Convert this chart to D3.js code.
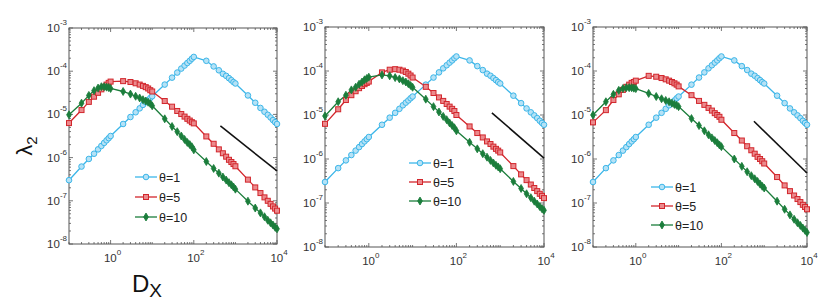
<!DOCTYPE html>
<html>
<head>
<meta charset="utf-8">
<script src="https://cdn.jsdelivr.net/npm/d3@7"></script>
<style>
body { margin: 0; background: #fff; }
svg { display: block; font-family: "Liberation Sans", Arial, Helvetica, sans-serif; }
</style>
</head>
<body>
<svg width="831" height="303"></svg>
<script>
// D_X sample points (1..9 per decade)
var dx = [0.1, 0.2, 0.3, 0.4, 0.5, 0.6, 0.7, 0.8, 0.9,
          1, 2, 3, 4, 5, 6, 7, 8, 9,
          10, 20, 30, 40, 50, 60, 70, 80, 90,
          100, 200, 300, 400, 500, 600, 700, 800, 900,
          1000, 2000, 3000, 4000, 5000, 6000, 7000, 8000, 9000, 10000];

// theta = 1 (same curve in all three panels)
var theta1 = [3.0e-7, 6.2e-7, 9.3e-7, 1.23e-6, 1.55e-6, 1.86e-6, 2.19e-6, 2.51e-6, 2.82e-6,
              3.16e-6, 6.0e-6, 8.7e-6, 1.12e-5, 1.38e-5, 1.66e-5, 1.91e-5, 2.14e-5, 2.40e-5,
              2.63e-5, 4.9e-5, 7.1e-5, 9.3e-5, 1.15e-4, 1.35e-4, 1.55e-4, 1.74e-4, 1.95e-4,
              2.14e-4, 1.74e-4, 1.29e-4, 1.05e-4, 8.7e-5, 7.8e-5, 6.9e-5, 6.2e-5, 5.6e-5,
              5.2e-5, 2.75e-5, 1.86e-5, 1.41e-5, 1.15e-5, 9.8e-6, 8.5e-6, 7.4e-6, 6.6e-6, 6.0e-6];

// panel 1
var theta5A = [6.3e-6, 1.26e-5, 1.95e-5, 2.57e-5, 3.16e-5, 3.80e-5, 4.37e-5, 4.90e-5, 5.37e-5,
               5.75e-5, 5.89e-5, 5.62e-5, 5.25e-5, 4.90e-5, 4.57e-5, 4.27e-5, 3.98e-5, 3.63e-5,
               3.39e-5, 2.04e-5, 1.51e-5, 1.20e-5, 1.02e-5, 8.9e-6, 7.9e-6, 7.2e-6, 6.6e-6,
               6.2e-6, 3.09e-6, 2.09e-6, 1.55e-6, 1.26e-6, 1.05e-6, 8.9e-7, 7.9e-7, 7.1e-7,
               6.3e-7, 3.09e-7, 2.04e-7, 1.51e-7, 1.20e-7, 1.00e-7, 8.5e-8, 7.4e-8, 6.6e-8, 5.9e-8];
var theta10A = [9.8e-6, 1.82e-5, 2.75e-5, 3.55e-5, 4.07e-5, 4.37e-5, 4.37e-5, 4.27e-5, 4.17e-5,
                3.98e-5, 3.39e-5, 2.95e-5, 2.63e-5, 2.40e-5, 2.19e-5, 2.04e-5, 1.91e-5, 1.78e-5,
                1.58e-5, 7.9e-6, 5.25e-6, 3.98e-6, 3.16e-6, 2.63e-6, 2.24e-6, 2.00e-6, 1.78e-6,
                1.51e-6, 8.1e-7, 5.6e-7, 4.37e-7, 3.55e-7, 3.02e-7, 2.63e-7, 2.34e-7, 2.09e-7,
                1.86e-7, 9.8e-8, 6.8e-8, 5.25e-8, 4.27e-8, 3.55e-8, 3.09e-8, 2.75e-8, 2.45e-8, 2.24e-8];

// panel 2
var theta5B = [6.3e-6, 1.35e-5, 2.19e-5, 2.82e-5, 3.47e-5, 4.07e-5, 4.57e-5, 5.01e-5, 5.37e-5,
               5.75e-5, 9.3e-5, 1.07e-4, 1.10e-4, 1.07e-4, 1.02e-4, 9.5e-5, 8.7e-5, 7.9e-5,
               7.1e-5, 4.37e-5, 3.16e-5, 2.51e-5, 2.09e-5, 1.78e-5, 1.55e-5, 1.38e-5, 1.23e-5,
               1.00e-5, 5.5e-6, 3.89e-6, 3.09e-6, 2.51e-6, 2.19e-6, 1.91e-6, 1.70e-6, 1.55e-6,
               1.41e-6, 6.9e-7, 4.47e-7, 3.31e-7, 2.63e-7, 2.19e-7, 1.86e-7, 1.62e-7, 1.45e-7, 1.29e-7];
var theta10B = [9.5e-6, 2.00e-5, 2.82e-5, 3.72e-5, 4.27e-5, 5.01e-5, 5.62e-5, 6.31e-5, 6.76e-5,
                7.24e-5, 8.13e-5, 7.76e-5, 7.08e-5, 6.61e-5, 6.03e-5, 5.62e-5, 5.13e-5, 4.68e-5,
                4.27e-5, 2.29e-5, 1.55e-5, 1.17e-5, 9.3e-6, 7.8e-6, 6.6e-6, 5.75e-6, 5.13e-6,
                4.37e-6, 2.40e-6, 1.70e-6, 1.32e-6, 1.10e-6, 9.3e-7, 8.1e-7, 7.2e-7, 6.6e-7,
                6.0e-7, 3.09e-7, 2.14e-7, 1.62e-7, 1.32e-7, 1.10e-7, 9.5e-8, 8.3e-8, 7.4e-8, 6.8e-8];

// panel 3
var theta5C = [6.8e-6, 1.29e-5, 2.19e-5, 2.95e-5, 3.72e-5, 4.37e-5, 4.90e-5, 5.37e-5, 5.62e-5,
               6.03e-5, 7.76e-5, 7.41e-5, 6.92e-5, 6.46e-5, 6.03e-5, 5.62e-5, 5.25e-5, 4.90e-5,
               4.47e-5, 2.82e-5, 2.09e-5, 1.70e-5, 1.45e-5, 1.26e-5, 1.10e-5, 1.00e-5, 9.1e-6,
               7.8e-6, 3.89e-6, 2.63e-6, 1.95e-6, 1.58e-6, 1.32e-6, 1.12e-6, 1.00e-6, 8.9e-7,
               7.9e-7, 3.89e-7, 2.51e-7, 1.86e-7, 1.48e-7, 1.23e-7, 1.05e-7, 9.1e-8, 8.1e-8, 7.2e-8];
var theta10C = [1.00e-5, 2.00e-5, 2.95e-5, 3.63e-5, 3.98e-5, 4.17e-5, 4.17e-5, 4.17e-5, 4.07e-5,
                3.98e-5, 3.09e-5, 2.63e-5, 2.34e-5, 2.14e-5, 2.00e-5, 1.86e-5, 1.74e-5, 1.66e-5,
                1.55e-5, 8.3e-6, 5.75e-6, 4.37e-6, 3.55e-6, 3.02e-6, 2.63e-6, 2.34e-6, 2.09e-6,
                1.91e-6, 1.00e-6, 6.8e-7, 5.13e-7, 4.17e-7, 3.55e-7, 3.09e-7, 2.69e-7, 2.40e-7,
                2.19e-7, 1.10e-7, 7.2e-8, 5.37e-8, 4.27e-8, 3.55e-8, 3.09e-8, 2.69e-8, 2.40e-8, 2.14e-8];

// black guide segments: [x0, x1], [y0, y1]
var guideX = [[436, 1e4], [646, 1e4], [575, 1e4]];
var guideY = [[5.4e-6, 4.9e-7], [1.12e-5, 1.05e-6], [7.2e-6, 4.8e-7]];

var legendLabels = ["\u03b8=1", "\u03b8=5", "\u03b8=10"];
var xTickExp = [0, 2, 4];
var yTickExp = [-8, -7, -6, -5, -4, -3];

var colors = ["#3cb6e9", "#d2262c", "#1b7d3b"];
var fills = ["#b5e2f6", "#eb8a8d", "#1b7d3b"];

// layout of the three axes boxes
var panels = [
    {left: 69, right: 277, top: 28, bottom: 244, red: theta5A, green: theta10A, legX: 135, legY: 177, legDy: 20},
    {left: 325, right: 544, top: 27, bottom: 247, red: theta5B, green: theta10B, legX: 409, legY: 163, legDy: 19},
    {left: 593, right: 807, top: 27, bottom: 247, red: theta5C, green: theta10C, legX: 651, legY: 187, legDy: 19}
];

var svg = d3.select("svg");
var axisColor = "#555";

function drawMarker(sel, k, cx, cy) {
    if (k === 0) {
        sel.append("circle").attr("cx", cx).attr("cy", cy).attr("r", 2.8)
            .attr("fill", fills[0]).attr("stroke", colors[0]).attr("stroke-width", 1);
    } else if (k === 1) {
        sel.append("rect").attr("x", cx - 2.5).attr("y", cy - 2.5).attr("width", 5).attr("height", 5)
            .attr("fill", fills[1]).attr("stroke", colors[1]).attr("stroke-width", 1);
    } else {
        sel.append("path").attr("d", "M" + cx + "," + (cy - 4) + "L" + (cx + 2.4) + "," + cy + "L" + cx + "," + (cy + 4) + "L" + (cx - 2.4) + "," + cy + "Z")
            .attr("fill", fills[2]).attr("stroke", colors[2]).attr("stroke-width", 0.8);
    }
}

panels.forEach(function(p, i) {
    var x = d3.scaleLog().domain([0.1, 1e4]).range([p.left, p.right]);
    var y = d3.scaleLog().domain([1e-8, 1e-3]).range([p.bottom, p.top]);
    var g = svg.append("g");

    // minor + major ticks, inward on all four sides
    var xt = [];
    for (var d = -1; d <= 3; d++) for (var m = 1; m <= 9; m++) xt.push(m * Math.pow(10, d));
    xt.push(1e4);
    xt.forEach(function(v) {
        var major = xTickExp.indexOf(Math.round(Math.log10(v) * 1000) / 1000) >= 0;
        var len = major ? 4 : 2;
        g.append("line").attr("x1", x(v)).attr("x2", x(v)).attr("y1", p.bottom).attr("y2", p.bottom - len)
            .attr("stroke", axisColor).attr("stroke-width", 0.8);
        g.append("line").attr("x1", x(v)).attr("x2", x(v)).attr("y1", p.top).attr("y2", p.top + len)
            .attr("stroke", axisColor).attr("stroke-width", 0.8);
    });
    var yt = [];
    for (var e = -8; e <= -4; e++) for (var n = 1; n <= 9; n++) yt.push(n * Math.pow(10, e));
    yt.push(1e-3);
    yt.forEach(function(v) {
        var major = Math.abs(Math.log10(v) - Math.round(Math.log10(v))) < 1e-6;
        var len = major ? 4 : 2;
        g.append("line").attr("y1", y(v)).attr("y2", y(v)).attr("x1", p.left).attr("x2", p.left + len)
            .attr("stroke", axisColor).attr("stroke-width", 0.8);
        g.append("line").attr("y1", y(v)).attr("y2", y(v)).attr("x1", p.right).attr("x2", p.right - len)
            .attr("stroke", axisColor).attr("stroke-width", 0.8);
    });

    g.append("rect").attr("x", p.left).attr("y", p.top)
        .attr("width", p.right - p.left).attr("height", p.bottom - p.top)
        .attr("fill", "none").attr("stroke", axisColor).attr("stroke-width", 1);

    // tick labels
    yTickExp.forEach(function(ex) {
        var t = g.append("text").attr("x", p.left - 2).attr("y", y(Math.pow(10, ex)) + 4)
            .attr("text-anchor", "end").attr("font-size", 11.5).attr("fill", "#333");
        t.append("tspan").text("10");
        t.append("tspan").attr("dy", -7).attr("font-size", 8).text("-" + Math.abs(ex));
    });
    xTickExp.forEach(function(ex) {
        var t = g.append("text").attr("x", x(Math.pow(10, ex)) + 2).attr("y", p.bottom + 18)
            .attr("text-anchor", "middle").attr("font-size", 11.5).attr("fill", "#333");
        t.append("tspan").text("10");
        t.append("tspan").attr("dy", -7).attr("font-size", 8).text(ex);
    });

    // series
    var series = [theta1, p.red, p.green];
    var line = d3.line().x(function(d, j) { return x(dx[j]); }).y(function(d) { return y(d); });
    series.forEach(function(s, k) {
        g.append("path").attr("d", line(s)).attr("fill", "none")
            .attr("stroke", colors[k]).attr("stroke-width", 1.3);
    });
    series.forEach(function(s, k) {
        var mg = g.append("g");
        s.forEach(function(v, j) { drawMarker(mg, k, x(dx[j]), y(v)); });
    });

    // guide line
    g.append("line").attr("x1", x(guideX[i][0])).attr("x2", x(guideX[i][1]))
        .attr("y1", y(guideY[i][0])).attr("y2", y(guideY[i][1]))
        .attr("stroke", "#111").attr("stroke-width", 1.6);

    // legend
    legendLabels.forEach(function(lab, k) {
        var ly = p.legY + k * p.legDy;
        g.append("line").attr("x1", p.legX).attr("x2", p.legX + 22).attr("y1", ly).attr("y2", ly)
            .attr("stroke", colors[k]).attr("stroke-width", 1.3);
        drawMarker(g, k, p.legX + 11, ly);
        g.append("text").attr("x", p.legX + 24).attr("y", ly + 4.5)
            .attr("font-size", 12.5).attr("fill", "#222").text(lab);
    });
});

// axis titles (first panel only)
var yl = svg.append("text").attr("transform", "translate(32,146) rotate(-90)")
    .attr("text-anchor", "middle").attr("font-size", 22).attr("fill", "#111");
yl.append("tspan").text("\u03bb");
yl.append("tspan").attr("dy", 5).attr("font-size", 15).text("2");

var xl = svg.append("text").attr("x", 147).attr("y", 292)
    .attr("text-anchor", "middle").attr("font-size", 24).attr("fill", "#111");
xl.append("tspan").text("D");
xl.append("tspan").attr("dy", 5).attr("font-size", 19).text("X");
</script>
</body>
</html>
